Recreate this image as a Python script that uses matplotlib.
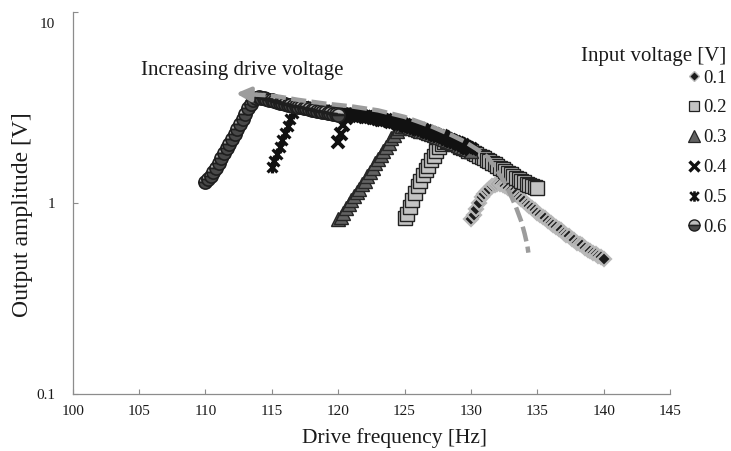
import numpy as np
import matplotlib
matplotlib.use("Agg")
import matplotlib.pyplot as plt
import matplotlib.transforms as mtrans
from matplotlib.path import Path

plt.rcParams['font.family'] = ['Liberation Serif', 'DejaVu Serif']

# ---------------- data ----------------
voltages = ["0.1", "0.2", "0.3", "0.4", "0.5", "0.6"]
sweep_start = [130.0, 125.0, 120.0, 120.0, 115.0, 110.0]   # Hz, each sweep spans 10 Hz
sweep_step = 0.2

amp_01 = [0.82, 0.87, 0.93, 1.00, 1.07, 1.12, 1.16, 1.19, 1.22, 1.24,
          1.25, 1.25, 1.24, 1.22, 1.20, 1.17, 1.14, 1.11, 1.08, 1.05,
          1.02, 0.99, 0.97, 0.94, 0.92, 0.89, 0.87, 0.85, 0.83, 0.81,
          0.79, 0.77, 0.75, 0.73, 0.72, 0.70, 0.68, 0.67, 0.65, 0.64,
          0.62, 0.61, 0.60, 0.58, 0.57, 0.56, 0.55, 0.54, 0.53, 0.52,
          0.51]
amp_02 = [0.83, 0.88, 0.95, 1.04, 1.13, 1.22, 1.31, 1.40, 1.48, 1.57,
          1.67, 1.77, 1.87, 1.96, 2.04, 2.09, 2.10, 2.09,
          2.06, 2.03, 2.00, 1.97, 1.94, 1.91, 1.88, 1.86, 1.83, 1.80,
          1.77, 1.74, 1.71, 1.68, 1.65, 1.62, 1.59, 1.56, 1.53, 1.50,
          1.47, 1.44, 1.41, 1.38, 1.35, 1.33, 1.30, 1.28, 1.26, 1.24,
          1.22, 1.21, 1.20]
amp_03 = [0.82, 0.85, 0.89, 0.94, 0.99, 1.04, 1.09, 1.14, 1.19, 1.25,
          1.31, 1.38, 1.45, 1.53, 1.61, 1.70, 1.78, 1.86, 1.96, 2.07,
          2.18, 2.28, 2.38, 2.47, 2.53, 2.54,
          2.52, 2.49, 2.47, 2.44, 2.42, 2.39, 2.37, 2.34, 2.32, 2.29,
          2.27, 2.24, 2.22, 2.19, 2.16, 2.13, 2.10, 2.08, 2.05, 2.02,
          1.99, 1.96, 1.93, 1.91, 1.88]
amp_04 = [2.09, 2.30, 2.55, 2.78, 2.90, 2.92,
          2.89, 2.87, 2.86, 2.84, 2.83, 2.81, 2.80, 2.78, 2.77, 2.75,
          2.73, 2.71, 2.70, 2.68, 2.66, 2.64, 2.62, 2.60, 2.58, 2.56,
          2.54, 2.52, 2.49, 2.47, 2.45, 2.43, 2.40, 2.38, 2.35, 2.33,
          2.30, 2.28, 2.25, 2.23, 2.20, 2.17, 2.14, 2.12, 2.09, 2.06,
          2.03, 2.00, 1.97, 1.95, 1.92]
amp_05 = [1.54, 1.66, 1.80, 1.96, 2.13, 2.32, 2.52, 2.74, 2.95, 3.12, 3.20,
          3.22, 3.20, 3.18, 3.16, 3.14, 3.13, 3.11, 3.10, 3.08, 3.07,
          3.05, 3.04, 3.02, 3.01, 2.99, 2.98, 2.97, 2.96, 2.95, 2.94,
          2.93, 2.91, 2.90, 2.88, 2.87, 2.85, 2.84, 2.82, 2.81, 2.79,
          2.77, 2.75, 2.74, 2.72, 2.70, 2.68, 2.66, 2.64, 2.62, 2.60]
amp_06 = [1.29, 1.33, 1.38, 1.45, 1.53, 1.62, 1.72, 1.82, 1.93, 2.04,
          2.16, 2.29, 2.43, 2.58, 2.75, 2.93, 3.12, 3.30, 3.45, 3.54,
          3.57, 3.56, 3.53,
          3.50, 3.47, 3.44, 3.41, 3.38, 3.35, 3.33, 3.30, 3.27, 3.25,
          3.22, 3.20, 3.18, 3.16, 3.14, 3.12, 3.10, 3.08, 3.06, 3.04,
          3.02, 3.00, 2.99, 2.97, 2.95, 2.93, 2.92, 2.90]
amplitudes = [amp_01, amp_02, amp_03, amp_04, amp_05, amp_06]

# annotation: dashed "increasing drive voltage" curve
arrow_f = [113.4, 114.5, 115.5, 117.0, 119.0, 121.0, 123.0, 125.0, 127.0, 128.5,
           129.5, 130.5, 131.3, 131.9, 132.5, 133.0, 133.4, 133.8, 134.05, 134.25, 134.33]
arrow_v = [3.70, 3.66, 3.60, 3.46, 3.31, 3.20, 3.05, 2.82, 2.52, 2.27,
           2.10, 1.90, 1.73, 1.50, 1.30, 1.10, 0.95, 0.80, 0.69, 0.60, 0.55]
arrow_tip = (112.3, 3.74)

x_ticks = [100, 105, 110, 115, 120, 125, 130, 135, 140, 145]
y_ticks = [0.1, 1, 10]
y_tick_labels = ["0.1", "1", "10"]

# ---------------- figure ----------------
W, H = 731, 451
fig = plt.figure(figsize=(W / 100, H / 100), dpi=100)
left, right, top, bottom = 72.7, 670.0, 11.7, 394.3
ax = fig.add_axes([left / W, 1 - bottom / H, (right - left) / W, (bottom - top) / H])

star = Path([(-1, -1), (1, 1), (-1, 1), (1, -1), (0, -1.2), (0, 1.2)],
            [Path.MOVETO, Path.LINETO] * 3)

styles = [
    dict(marker='D', ms=7.5, mfc='#1c1c1c', mec='#b8b8b8', mew=1.6),
    dict(marker='s', ms=10.0, mfc='#c4c4c4', mec='#222222', mew=1.0),
    dict(marker='^', ms=10.5, mfc='#626262', mec='#262626', mew=1.0),
    dict(marker='x', ms=8.5, mec='#111111', mew=2.8),
    dict(marker=star, ms=8.5, mfc='none', mec='#111111', mew=2.3),
    dict(marker='o', ms=9.5, mfc='#bcbcbc', mfcalt='#484848', fillstyle='top',
         mec='#1e1e1e', mew=1.2),
]
legend_ms = [5.5, 7.5, 8.5, 7.0, 7.5, 8.0]
legend_mew = [1.0, 0.9, 0.9, 2.4, 1.9, 1.0]

handles = []
for v, f0, amp, st in zip(voltages, sweep_start, amplitudes, styles):
    freq = f0 + sweep_step * np.arange(len(amp))
    ln, = ax.plot(freq, amp, linestyle='none', label=v, **st)
    handles.append(ln)

ax.plot(arrow_f, arrow_v, color='#9c9c9c', lw=3.2, dashes=(3.4, 1.2),
        solid_capstyle='butt', zorder=10)
ax.annotate('', xy=arrow_tip, xytext=(arrow_f[0], arrow_v[0]),
            arrowprops=dict(arrowstyle='-|>,head_length=0.85,head_width=0.42',
                            color='#9c9c9c', lw=3.0, mutation_scale=10,
                            shrinkA=0, shrinkB=0),
            zorder=10)

ax.text(112.8, 4.9, "Increasing drive voltage", fontsize=15, ha='center',
        va='center', color='#1a1a1a')

ax.set_yscale('log')
ax.set_xlim(100, 145)
ax.set_ylim(0.1, 10)
ax.set_xticks(x_ticks)
ax.set_xticklabels([str(t) for t in x_ticks])
ax.set_yticks(y_ticks)
ax.set_yticklabels(y_tick_labels)
ax.yaxis.set_minor_locator(matplotlib.ticker.NullLocator())

for s in ['top', 'right']:
    ax.spines[s].set_visible(False)
for s in ['left', 'bottom']:
    ax.spines[s].set_color('#8c8c8c')
    ax.spines[s].set_linewidth(0.9)
ax.tick_params(axis='x', direction='in', length=3.5, width=0.8, color='#8c8c8c',
               labelsize=11, labelcolor='#1a1a1a', pad=7.5)
ax.tick_params(axis='y', direction='in', length=3.5, width=0.8, color='#8c8c8c',
               labelsize=11, labelcolor='#1a1a1a', pad=12.5)
top_lbl = ax.get_yticklabels()[-1]
top_lbl.set_verticalalignment('top')
top_lbl.set_transform(top_lbl.get_transform() +
                      mtrans.ScaledTranslation(0, -6 / 100, fig.dpi_scale_trans))

ax.set_xlabel("Drive frequency [Hz]", fontsize=15.5, color='#1a1a1a')
ax.set_ylabel("Output amplitude [V]", fontsize=17, color='#1a1a1a')
ax.xaxis.set_label_coords(0.538, -0.088)
ax.yaxis.set_label_coords(-0.066, 0.469)

fig.text(726 / W, 1 - 57 / H, "Input voltage [V]", fontsize=15, ha='right',
         va='center', color='#1a1a1a')
leg = fig.legend(handles=handles, labels=voltages,
                 loc='upper right', bbox_to_anchor=(727 / W, 1 - 69.5 / H),
                 frameon=False, fontsize=13.5,
                 handlelength=0.7, handletextpad=0.15, labelspacing=0.68,
                 borderpad=0, borderaxespad=0, numpoints=1)
for t in leg.get_texts():
    t.set_color('#1a1a1a')
for h, ms, mw in zip(leg.legend_handles, legend_ms, legend_mew):
    h.set_markersize(ms)
    h.set_markeredgewidth(mw)

fig.savefig("out.png", dpi=100)
